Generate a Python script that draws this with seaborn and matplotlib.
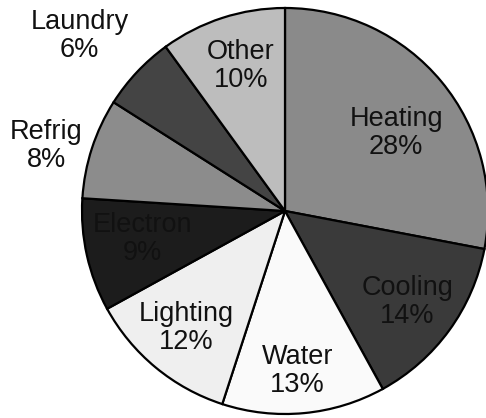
import numpy as np
import matplotlib
matplotlib.use("Agg")
import matplotlib.pyplot as plt
import seaborn as sns

# Household energy use by end use
categories = ["Heating", "Cooling", "Water", "Lighting", "Electron", "Refrig", "Laundry", "Other"]
shares = [28, 14, 13, 12, 9, 8, 6, 10]

# Grey fill for each slice, in the same order
fills = ["#8a8a8a", "#3a3a3a", "#fafafa", "#efefef", "#1c1c1c", "#8c8c8c", "#444444", "#bdbdbd"]
# Radial position of each label (fraction of the radius) and small angular nudge (deg)
label_radius = [0.67, 0.75, 0.79, 0.755, 0.715, 1.22, 1.33, 0.745]
label_nudge = [-4.5, -0.6, -0.9, -0.4, -1.5, 2.7, 2.8, -1.0]

sns.set_theme(style="white")
plt.rcParams["font.family"] = ["Liberation Sans", "DejaVu Sans"]

W, H, DPI = 486, 418, 100
fig = plt.figure(figsize=(W / DPI, H / DPI), dpi=DPI)
fig.patch.set_facecolor("white")

cx, cy, R = 285, 207, 203  # pie centre (from bottom) and radius in pixels
ax = fig.add_axes([(cx - R) / W, (cy - R) / H, 2 * R / W, 2 * R / H])

wedges, _ = ax.pie(
    shares,
    colors=fills,
    startangle=90,
    counterclock=False,
    radius=1.0,
    wedgeprops=dict(edgecolor="black", linewidth=1.6),
)
ax.set_xlim(-1, 1)
ax.set_ylim(-1, 1)
ax.set_aspect("equal")
ax.axis("off")
for w in wedges:
    w.set_clip_on(False)

for w, name, pct, r, nudge in zip(wedges, categories, shares, label_radius, label_nudge):
    mid = np.deg2rad((w.theta1 + w.theta2) / 2 + nudge)
    ax.text(r * np.cos(mid), r * np.sin(mid), f"{name}\n{pct}%",
            ha="center", va="center", fontsize=19.5, color="#111111",
            linespacing=1.1, clip_on=False)

fig.savefig("out.png", dpi=DPI, facecolor="white")
